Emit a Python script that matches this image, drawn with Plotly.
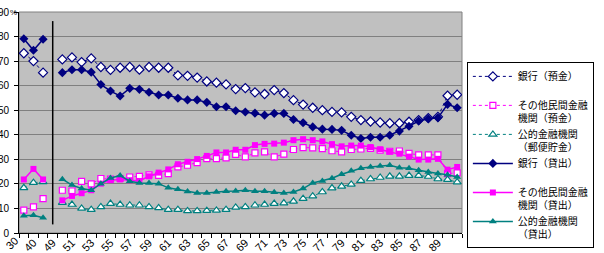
import plotly.graph_objects as go

# ---- data ----
# category index 0-2: pre-war group, 3: separator (1949), 4-45: 1950-1991
categories = ["35", "40", "45", "49"] + [str(y)[2:] for y in range(1950, 1992)]
tick_labels = ["40", "49"] + [str(y) for y in range(51, 90, 2)]
tick_index = [1, 3] + list(range(5, 44, 2))
extra_label = "30"
extra_label_index = -1

bank_dep = [73.2, 70.0, 65.3, None,
            70.7, 71.5, 69.6, 71.1, 67.6, 66.4, 67.3, 67.6, 66.5, 67.6, 67.3, 67.3, 64.2, 64.0, 63.3,
            61.7, 61.2, 60.5, 58.6, 59.0, 57.3, 56.6, 58.2, 57.0, 54.1, 52.3, 51.0, 50.0, 49.3, 49.1,
            47.3, 46.0, 45.4, 45.0, 44.7, 44.7, 45.3, 46.0, 46.8, 47.3, 55.9, 56.3]
other_dep = [9.3, 10.6, 14.0, None,
             17.4, 17.1, 21.0, 20.0, 22.2, 21.9, 22.2, 22.8, 23.1, 23.7, 23.5, 24.2, 26.9, 27.6, 28.7,
             30.3, 30.3, 30.6, 32.0, 31.0, 32.6, 33.0, 31.0, 32.1, 34.0, 34.8, 34.7, 34.4, 33.5, 33.0,
             34.0, 34.2, 34.5, 33.7, 33.3, 33.4, 32.4, 31.8, 31.8, 31.8, 24.2, 24.5]
pub_dep = [18.4, 20.5, 20.8, None,
           12.4, 11.6, 10.0, 9.5, 10.6, 12.0, 11.6, 11.3, 11.3, 10.6, 10.2, 9.5, 9.5, 9.0, 9.0,
           9.1, 9.2, 9.5, 10.4, 10.6, 11.3, 11.6, 12.0, 12.2, 12.9, 14.0, 15.0, 16.7, 18.3, 19.0,
           19.8, 21.3, 22.0, 22.6, 23.1, 23.1, 23.4, 23.4, 23.0, 22.0, 21.7, 20.7]
bank_loan = [79.1, 74.4, 78.9, None,
             65.3, 66.5, 66.5, 65.5, 60.5, 57.8, 55.8, 58.9, 58.5, 57.3, 56.2, 56.2, 54.9, 54.2, 54.2,
             53.2, 51.4, 51.4, 49.8, 49.3, 48.8, 48.0, 48.7, 48.7, 46.2, 44.9, 43.2, 42.3, 42.2, 41.8,
             39.8, 38.5, 39.0, 39.0, 39.8, 41.5, 43.5, 45.6, 46.5, 46.9, 52.4, 51.0]
other_loan = [21.8, 26.1, 21.8, None,
              13.3, 15.1, 16.2, 17.4, 20.1, 21.5, 21.8, 21.5, 21.2, 23.1, 24.6, 25.9, 28.0, 29.0, 30.1,
              31.4, 32.8, 32.8, 33.9, 33.9, 35.8, 36.3, 36.4, 36.8, 37.8, 38.2, 37.8, 37.3, 36.2, 35.3,
              35.6, 35.6, 35.0, 34.1, 33.2, 32.3, 31.1, 29.9, 29.9, 30.2, 25.8, 26.9]
pub_loan = [7.0, 7.2, 6.2, None,
            21.9, 19.5, 18.1, 17.4, 20.1, 22.4, 23.4, 21.1, 20.4, 20.4, 20.1, 18.4, 17.8, 16.9, 16.3,
            16.3, 16.7, 17.0, 17.1, 17.4, 17.0, 17.0, 16.6, 16.3, 16.7, 18.1, 20.4, 21.2, 22.3, 23.9,
            25.3, 26.4, 26.9, 27.3, 27.6, 26.6, 26.4, 25.6, 24.8, 24.2, 23.7, 22.8]

separator_index = 3
separator_range = [3.5, 86.3]

names = ["銀行（預金）<br>&nbsp;", "その他民間金融<br>機関（預金）", "公的金融機関<br>（郵便貯金）",
         "銀行（貸出）<br>&nbsp;", "その他民間金融<br>機関（貸出）", "公的金融機関<br>（貸出）"]

NAVY, MAG, TEAL = "#000080", "#FF00FF", "#008080"

x = list(range(len(categories)))
n_cat = len(categories)
fig = go.Figure()

series = [
    (bank_dep, names[0], NAVY, "diamond", True, 7),
    (other_dep, names[1], MAG, "square", True, 6),
    (pub_dep, names[2], TEAL, "triangle-up", True, 7),
    (bank_loan, names[3], NAVY, "diamond", False, 7),
    (other_loan, names[4], MAG, "square", False, 6),
    (pub_loan, names[5], TEAL, "triangle-up", False, 7),
]
for vals, nm, col, sym, opened, sz in series:
    fig.add_trace(go.Scatter(
        x=x, y=vals, name=nm, mode="lines+markers",
        line=dict(color=col, width=1 if opened else 1.5, dash="dot" if opened else "solid"),
        marker=dict(symbol=sym, size=sz,
                    color="white" if opened else col,
                    line=dict(color=col, width=1.2 if opened else 0)),
        connectgaps=False,
    ))

fig.add_shape(type="rect", xref="paper", yref="paper", x0=0, x1=1, y0=0, y1=1,
              line=dict(color="#808080", width=1), layer="below")
fig.add_shape(type="line", xref="x", yref="y", x0=separator_index, x1=separator_index,
              y0=separator_range[0], y1=separator_range[1],
              line=dict(color="black", width=1.5))

fig.add_annotation(text="%", xref="paper", yref="y", x=0, y=90, xanchor="right",
                   yanchor="middle", xshift=0, showarrow=False,
                   font=dict(family="Liberation Sans", size=8, color="black"))
fig.add_annotation(text=extra_label, xref="paper", yref="paper",
                   x=(extra_label_index + 0.5) / n_cat, y=0,
                   xanchor="center", yanchor="top", textangle=-45, showarrow=False,
                   yshift=1, xshift=-2,
                   font=dict(family="Liberation Sans", size=11, color="black"))

fig.update_layout(
    width=604, height=253,
    margin=dict(l=19, r=142, t=12, b=20, autoexpand=False),
    paper_bgcolor="white", plot_bgcolor="#C0C0C0",
    font=dict(family="Liberation Sans", size=11, color="black"),
    showlegend=True,
    legend=dict(x=1.011, y=0.772, xanchor="left", yanchor="top",
                bordercolor="black", borderwidth=1, bgcolor="white",
                font=dict(family="Noto Sans CJK JP", size=10),
                itemwidth=40, valign="top", tracegroupgap=0),
    xaxis=dict(range=[-0.5, n_cat - 0.5], tickmode="array",
               tickvals=tick_index, ticktext=tick_labels, tickangle=-45,
               ticks="", showgrid=False, zeroline=False, showline=True,
               linecolor="black", linewidth=1, automargin=False,
               ticklabeloverflow="allow", tickfont=dict(size=11), ticklabelstandoff=-2,
               minor=dict(tickmode="array", tickvals=[i - 0.5 for i in range(n_cat + 1)],
                          ticks="outside", ticklen=4, tickcolor="black", showgrid=False)),
    yaxis=dict(range=[0, 90], tickmode="array", tickvals=list(range(0, 91, 10)),
               ticks="outside", ticklen=4, tickcolor="black", showgrid=True,
               gridcolor="#808080", gridwidth=1, zeroline=False, showline=True,
               linecolor="black", linewidth=1, automargin=False,
               ticklabeloverflow="allow", tickfont=dict(size=10), ticklabelstandoff=3),
)

fig.write_html("out.html")
